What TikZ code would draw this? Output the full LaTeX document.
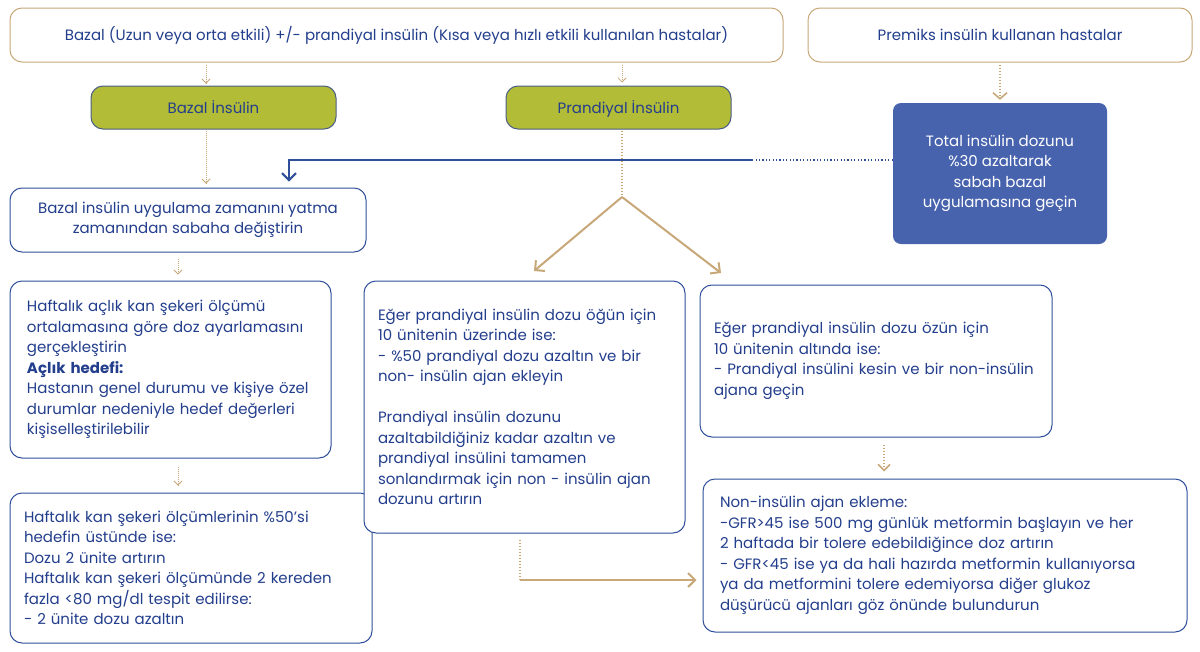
\documentclass[tikz,border=0pt]{standalone}
\usepackage{fontspec}
\setmainfont{Poppins}
\usetikzlibrary{arrows.meta}
\definecolor{tanc}{HTML}{C8A878}
\definecolor{navy}{HTML}{233E8C}
\definecolor{bord}{HTML}{2F4F9A}
\definecolor{olive}{HTML}{B3BC36}
\definecolor{bluefill}{HTML}{4863AE}
\definecolor{greenbord}{HTML}{4B5E86}
\begin{document}
\begin{tikzpicture}[x=1pt,y=-1pt,
  every node/.style={font=\fontsize{15}{20.5}\selectfont, text=navy, inner ysep=0pt},
  tanbox/.style={draw=tanc, line width=1pt, rounded corners=12pt, fill=white, align=center},
  linebox/.style={draw=bord, line width=1pt, rounded corners=12pt, fill=white, align=left},
  greenbox/.style={draw=greenbord, fill=olive, line width=1pt, rounded corners=12pt, text height=12.5pt, text depth=1.5pt},
  filledbox/.style={fill=bluefill, rounded corners=8pt, text=white, align=center},
  smallarrow/.style={draw=tanc, line width=0.8pt, dash pattern=on 1pt off 1pt, -{Straight Barb[length=4pt,width=8pt]}},
  tandots/.style={draw=tanc, line width=1.6pt, dash pattern=on 1.5pt off 1.5pt},
  tanline/.style={draw=tanc, line width=2pt, -{Straight Barb[length=7pt,width=14pt,line width=2pt]}},
  bluedots/.style={draw=bord, line width=2pt, dash pattern=on 1.2pt off 2.2pt},
  blueline/.style={draw=bord, line width=2pt},
]
\useasboundingbox (0,0) rectangle (1200,651);
\fill[white] (0,0) rectangle (1200,651);

% coordinates
\coordinate (xa) at (206,0);
\coordinate (xb) at (622,0);
\coordinate (xc) at (178,0);
\coordinate (xd) at (884,0);
\coordinate (bj) at (752,160);
\coordinate (bc) at (289,160);
\coordinate (fk) at (622,197);
\coordinate (fa) at (534,271);
\coordinate (fb) at (721,273);
\coordinate (be) at (520,580);

% top boxes
\node[tanbox, minimum width=773pt, minimum height=54pt] (top1) at (396.5,35)
  {Bazal (Uzun veya orta etkili) +/- prandiyal insülin (Kısa veya hızlı etkili kullanılan hastalar)};
\node[tanbox, minimum width=384pt, minimum height=54pt] (top2) at (1000,35)
  {Premiks insülin kullanan hastalar};

% green boxes
\node[greenbox, minimum width=245pt, minimum height=43pt] (g1) at (213.5,107.5) {Bazal İnsülin};
\node[greenbox, minimum width=225pt, minimum height=43pt] (g2) at (618.5,107.5) {Prandiyal İnsülin};

% filled blue box
\node[filledbox, minimum width=214pt, minimum height=141pt] (blue) at (1000,173.5)
  {\rule{0pt}{3pt}Total insülin dozunu\\ \%30 azaltarak\\ sabah bazal\\ uygulamasına geçin};

% left column
\node[linebox, align=center, minimum width=356pt, minimum height=64pt] (b1) at (188,220)
  {Bazal insülin uygulama zamanını yatma\\ zamanından sabaha değiştirin};
\node[linebox, inner xsep=17pt, text width=287pt, minimum height=177pt] (b2) at (170.5,369.5)
  {Haftalık açlık kan şekeri ölçümü\\ ortalamasına göre doz ayarlamasını\\ gerçekleştirin\\ \textbf{Açlık hedefi:}\\ Hastanın genel durumu ve kişiye özel\\ durumlar nedeniyle hedef değerleri\\ kişiselleştirilebilir};
\node[linebox, inner xsep=14pt, text width=334pt, minimum height=150pt] (b3) at (191,568)
  {Haftalık kan şekeri ölçümlerinin \%50’si\\ hedefin üstünde ise:\\ Dozu 2 ünite artırın\\ Haftalık kan şekeri ölçümünde 2 kereden\\ fazla <80 mg/dl tespit edilirse:\\ - 2 ünite dozu azaltın};

% middle box
\node[linebox, inner xsep=14pt, text width=293pt, minimum height=252pt] (m1) at (524.5,407)
  {Eğer prandiyal insülin dozu öğün için\\ 10 ünitenin üzerinde ise:\\ - \%50 prandiyal dozu azaltın ve bir\\ non- insülin ajan ekleyin\\[20.5pt] Prandiyal insülin dozunu\\ azaltabildiğiniz kadar azaltın ve\\ prandiyal insülini tamamen\\ sonlandırmak için non - insülin ajan\\ dozunu artırın};

% right boxes
\node[linebox, inner xsep=14pt, text width=324pt, minimum height=152pt] (r1) at (876,361)
  {Eğer prandiyal insülin dozu özün için\\ 10 ünitenin altında ise:\\ - Prandiyal insülini kesin ve bir non-insülin\\ ajana geçin};
\node[linebox, inner xsep=17pt, text width=450pt, minimum height=153pt] (n1) at (945,555.5)
  {Non-insülin ajan ekleme:\\ -GFR>45 ise 500 mg günlük metformin başlayın ve her\\ 2 haftada bir tolere edebildiğince doz artırın\\ - GFR<45 ise ya da hali hazırda metformin kullanıyorsa\\ ya da metformini tolere edemiyorsa diğer glukoz\\ düşürücü ajanları göz önünde bulundurun};

% connectors
\draw[smallarrow, shorten <=2pt, shorten >=2pt] (top1.south -| xa) -- (g1.north -| xa);
\draw[smallarrow, shorten <=2pt, shorten >=3pt] (top1.south -| xb) -- (g2.north -| xb);
\draw[smallarrow, shorten <=1pt, shorten >=4pt] (g1.south -| xa) -- (b1.north -| xa);
\draw[tanc, line width=1.4pt, dash pattern=on 1.5pt off 1.5pt, shorten <=2pt, -{Straight Barb[length=6pt,width=14pt,line width=1.6pt]}, shorten >=3pt] (top2.south) -- (blue.north);
\draw[bluedots] (blue.west |- bj) -- (bj);
\draw[blueline, -{Straight Barb[length=7pt,width=14pt,line width=2pt]}, shorten >=6pt] (bj) -- (bc) -- (b1.north -| bc);
\draw[tandots, shorten <=1pt] (g2.south -| fk) -- (fk);
\draw[tanline] (fk) -- (fa);
\draw[tanline] (fk) -- (fb);
\draw[smallarrow, shorten <=6pt, shorten >=6pt] (b1.south -| xc) -- (b2.north -| xc);
\draw[smallarrow, shorten <=8pt, shorten >=7pt] (b2.south -| xc) -- (b3.north -| xc);
\draw[tanc, line width=1.4pt, dash pattern=on 1.5pt off 1.5pt, shorten <=7pt, shorten >=7pt, -{Straight Barb[length=6pt,width=12pt,line width=1.6pt]}] (r1.south -| xd) -- (n1.north -| xd);
\draw[tandots, shorten <=6pt] (m1.south -| be) -- (be);
\draw[tanline, shorten >=6pt] (be) -- (n1.west |- be);
\end{tikzpicture}
\end{document}
